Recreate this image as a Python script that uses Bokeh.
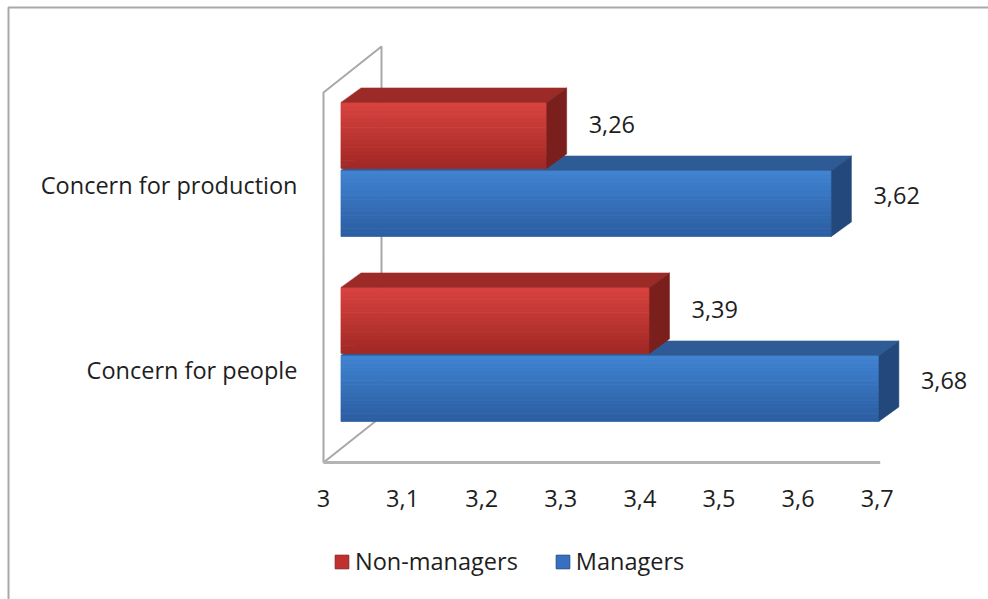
import numpy as np
from bokeh.plotting import figure
from bokeh.models import Range1d, Legend, LegendItem, ColumnDataSource
from bokeh.core.properties import value
from bokeh.embed import file_html
from bokeh.resources import INLINE

# ---------------- data ----------------
categories = ["Concern for people", "Concern for production"]
non_managers = [3.39, 3.26]
managers = [3.68, 3.62]
series_names = ["Non-managers", "Managers"]
value_labels_nm = ["3,39", "3,26"]
value_labels_m = ["3,68", "3,62"]
ticks = [3.0, 3.1, 3.2, 3.3, 3.4, 3.5, 3.6, 3.7]
tick_labels = ["3", "3,1", "3,2", "3,3", "3,4", "3,5", "3,6", "3,7"]

# ---------------- layout helpers (pixel <-> data) ----------------
W, H = 988, 599
X0PX, XPX = 323.0, 791.0   # pixel of x=3, pixels per unit
Y0PX, YPX = 462.0, 185.0   # pixel of floor, pixels per category


def xd(px):
    return 3.0 + (px - X0PX) / XPX


def yd(py):
    return (Y0PX - py) / YPX


def dxu(px):
    return px / XPX


def dyu(px):
    return px / YPX


FONT = "Open Sans"
FSIZE = "23.5px"
TXT = "#1e1e1e"

p = figure(width=W, height=H,
           x_range=Range1d(xd(0), xd(W)), y_range=Range1d(yd(H), yd(0)),
           output_backend="svg", toolbar_location=None,
           x_axis_type=None, y_axis_type=None, min_border=0,
           outline_line_color=None, background_fill_color="white",
           border_fill_color="white")

# outer chart border (cut by window at right/bottom)
p.line([xd(8), xd(8), xd(1000)], [yd(620), yd(7), yd(7)],
       line_color="#a8a8a8", line_width=2)

# 3D walls
WALL_DX, WALL_DY = 58, 46
x_base = ticks[0]
n_cat = len(categories)
p.patch([x_base, x_base, x_base + dxu(WALL_DX), x_base + dxu(WALL_DX)],
        [0, n_cat, n_cat + dyu(WALL_DY), dyu(WALL_DY)],
        fill_color="white", line_color="#a8a8a8", line_width=2)
p.line([x_base, ticks[-1] + dxu(3)], [0, 0], line_color="#b4b4b4", line_width=3)

# bars
BAR_DX, BAR_DY = 17.5, 15.6      # bar plane shift into depth
DEP_DX, DEP_DY = 20.0, 14.5      # bar depth
HALF = dyu(33)
OFF = dyu(34)
NSTRIP = 16

styles = {
    "Managers": dict(top="#4084d3", bot="#2b5da1", cap="#2e5b96", end="#23487b",
                     sign=-1, lab_up=7.5),
    "Non-managers": dict(top="#d9433f", bot="#a12825", cap="#9c2a27", end="#7b1f1d",
                         sign=+1, lab_up=11),
}


def hex2rgb(h):
    return np.array([int(h[i:i + 2], 16) for i in (1, 3, 5)], dtype=float)


def rgb2hex(c):
    return "#%02x%02x%02x" % tuple(int(round(v)) for v in c)


lab = dict(x=[], y=[], text=[])

# managers first so the non-manager bars overlap the managers' top faces
for name, vals, vlabels in (("Managers", managers, value_labels_m),
                            ("Non-managers", non_managers, value_labels_nm)):
    st = styles[name]
    strip = dict(left=[], right=[], bottom=[], top=[], color=[])
    caps = dict(xs=[], ys=[], color=[])
    ends = dict(xs=[], ys=[], color=[])
    for i, v in enumerate(vals):
        c = i + 0.5 + dyu(BAR_DY) + st["sign"] * OFF
        x0 = x_base + dxu(BAR_DX)
        x1 = v + dxu(BAR_DX)
        yb, yt = c - HALF, c + HALF
        ct, cb = hex2rgb(st["top"]), hex2rgb(st["bot"])
        for k in range(NSTRIP):
            f = (k + 0.5) / NSTRIP
            strip["left"].append(x0)
            strip["right"].append(x1)
            strip["top"].append(yt - (yt - yb) * k / NSTRIP)
            strip["bottom"].append(yt - (yt - yb) * (k + 1) / NSTRIP)
            strip["color"].append(rgb2hex(ct + (cb - ct) * f))
        ddx, ddy = dxu(DEP_DX), dyu(DEP_DY)
        caps["xs"].append([x0, x1, x1 + ddx, x0 + ddx])
        caps["ys"].append([yt, yt, yt + ddy, yt + ddy])
        caps["color"].append(st["cap"])
        ends["xs"].append([x1, x1, x1 + ddx, x1 + ddx])
        ends["ys"].append([yb, yt, yt + ddy, yb + ddy])
        ends["color"].append(st["end"])
        lab["x"].append(x1 + ddx + dxu(22))
        lab["y"].append(c + dyu(st["lab_up"]))
        lab["text"].append(vlabels[i])
    p.quad(left="left", right="right", bottom="bottom", top="top",
           fill_color="color", line_color="color", line_width=0.8,
           source=ColumnDataSource(strip))
    p.patches("xs", "ys", fill_color="color", line_color="color", line_width=0.5,
              source=ColumnDataSource(caps))
    p.patches("xs", "ys", fill_color="color", line_color="color", line_width=0.5,
              source=ColumnDataSource(ends))

# value labels
p.text(x="x", y="y", text="text", source=ColumnDataSource(lab),
       text_font=value(FONT), text_font_size=FSIZE, text_color=TXT,
       text_align="left", text_baseline="middle")

# category labels
p.text(x=[xd(297)] * n_cat, y=[i + 0.5 for i in range(n_cat)], text=categories,
       text_font=value(FONT), text_font_size=FSIZE, text_color=TXT,
       text_align="right", text_baseline="middle")

# tick labels
p.text(x=ticks, y=[yd(498)] * len(ticks), text=tick_labels,
       text_font=value(FONT), text_font_size=FSIZE, text_color=TXT,
       text_align="center", text_baseline="middle")

# legend (glyph renderers placed outside the visible area)
far = xd(-300)
r_nm = p.quad(left=[far], right=[far + 0.01], bottom=[0], top=[0.1],
              fill_color="#c0302d", line_color="#8a2422", line_width=1)
r_m = p.quad(left=[far], right=[far + 0.01], bottom=[0], top=[0.1],
             fill_color="#3571c0", line_color="#244e86", line_width=1)
legend = Legend(items=[LegendItem(label=series_names[0], renderers=[r_nm]),
                       LegendItem(label=series_names[1], renderers=[r_m])],
                orientation="horizontal", location=(333, 22),
                label_text_font=FONT, label_text_font_size=FSIZE,
                label_text_color=TXT,
                glyph_width=17, glyph_height=17, label_standoff=5, spacing=36,
                padding=0, margin=0, border_line_color=None,
                background_fill_alpha=0)
p.add_layout(legend)

open("out.html", "w").write(file_html(p, INLINE))
